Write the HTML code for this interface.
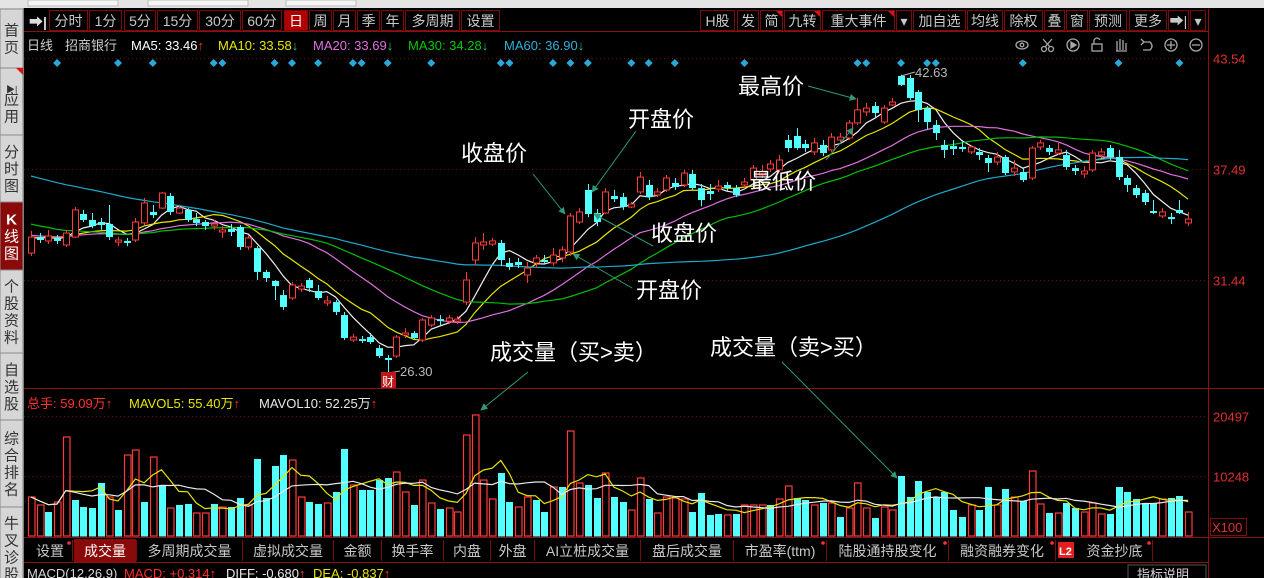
<!DOCTYPE html>
<html><head><meta charset="utf-8"><title>招商银行 日线</title>
<style>
html,body{margin:0;padding:0;background:#000;}
body{width:1264px;height:578px;overflow:hidden;}
svg{display:block;font-family:"Liberation Sans","Noto Sans CJK SC",sans-serif;}
</style></head>
<body>
<svg id="chart" width="1264" height="578" viewBox="0 0 1264 578" xmlns="http://www.w3.org/2000/svg">
<defs>
<marker id="arr" viewBox="0 0 10 10" refX="9" refY="5" markerWidth="7" markerHeight="7" orient="auto-start-reverse"><path d="M0,0 L10,5 L0,10 z" fill="#2f9a78"/></marker>
</defs>
<rect x="0" y="0" width="1264" height="578" fill="#000"/>
<g>
<rect x="0" y="0" width="1264" height="8" fill="#e4e4e4"/>
<rect x="28" y="0" width="90" height="6" fill="#f4f4f4" stroke="#bbb"/>
<rect x="148" y="0" width="100" height="6" fill="#f4f4f4" stroke="#bbb"/>
<rect x="286" y="0" width="70" height="6" fill="#f4f4f4" stroke="#bbb"/>
</g>
<g id="sidebar">
<rect x="0" y="8" width="24" height="570" fill="#d6d6d6"/>
<line x1="23.5" y1="8" x2="23.5" y2="578" stroke="#777"/>
</g>
<g id="toolbar"></g>
<g stroke="#8c1010" stroke-width="1">
<line x1="24" y1="31.5" x2="1208" y2="31.5"/>
<line x1="1208.5" y1="9" x2="1208.5" y2="578"/>
<line x1="24" y1="388.5" x2="1264" y2="388.5"/>
<line x1="24" y1="537.5" x2="1264" y2="537.5"/>
<line x1="24" y1="562.5" x2="1208" y2="562.5"/>
</g>
<g id="grid"></g>
<g id="axes"></g>
<g font-size="13">
<text x="27" y="50" fill="#cfcfcf">日线</text>
<text x="65" y="50" fill="#cfcfcf">招商银行</text>
<text x="131" y="50" fill="#ffffff">MA5: 33.46<tspan fill="#ff3030">↑</tspan></text>
<text x="218" y="50" fill="#e6e600">MA10: 33.58<tspan fill="#30c080">↓</tspan></text>
<text x="313" y="50" fill="#e070e0">MA20: 33.69<tspan fill="#30c080">↓</tspan></text>
<text x="408" y="50" fill="#00c800">MA30: 34.28<tspan fill="#30c080">↓</tspan></text>
<text x="504" y="50" fill="#30b0d8">MA60: 36.90<tspan fill="#30c080">↓</tspan></text>
</g>
<g id="tools" stroke="#a8a8a8" fill="none" stroke-width="1.3"></g>
<g id="markers"></g>
<g id="maLines"></g>
<g id="candles"></g>
<g id="volBars"></g>
<g id="volLines"></g>
<g font-size="13">
<text x="27" y="408" fill="#ff3030">总手: 59.09万↑</text>
<text x="129" y="408" fill="#e6e600">MAVOL5: 55.40万<tspan fill="#ff3030">↑</tspan></text>
<text x="259" y="408" fill="#e8e8e8">MAVOL10: 52.25万<tspan fill="#ff3030">↑</tspan></text>
</g>
<g font-size="13" fill="#b8b8b8">
<line x1="901" y1="76" x2="915" y2="72" stroke="#b8b8b8"/>
<text x="915" y="77">42.63</text>
<line x1="389" y1="373" x2="400" y2="371" stroke="#b8b8b8"/>
<text x="400" y="376">26.30</text>
<rect x="381" y="372" width="15" height="16" fill="#c01818"/>
<text x="382" y="386" fill="#fff" font-size="12">财</text>
</g>
<g font-size="22" fill="#ffffff">
<text x="738" y="94">最高价</text>
<text x="628" y="127">开盘价</text>
<text x="461" y="161">收盘价</text>
<text x="750" y="189">最低价</text>
<text x="651" y="241">收盘价</text>
<text x="636" y="298">开盘价</text>
<text x="490" y="360">成交量（买&gt;卖）</text>
<text x="710" y="355">成交量（卖&gt;买）</text>
<g stroke="#2f9a78" stroke-width="1" marker-end="url(#arr)">
<line x1="808" y1="86" x2="856" y2="99"/>
<line x1="636" y1="131" x2="592" y2="192"/>
<line x1="533" y1="174" x2="565" y2="214"/>
<line x1="826" y1="160" x2="853" y2="128"/>
<line x1="653" y1="246" x2="594" y2="214"/>
<line x1="632" y1="288" x2="573" y2="254"/>
<line x1="528" y1="372" x2="481" y2="410"/>
<line x1="782" y1="362" x2="897" y2="478"/>
</g>
</g>
<g id="tabs"></g>
<g font-size="13">
<text x="27" y="578" fill="#d8d8d8">MACD(12,26,9)</text>
<text x="124" y="578" fill="#ff3030">MACD: +0.314↑</text>
<text x="226" y="578" fill="#e8e8e8">DIFF: -0.680<tspan fill="#ff3030">↑</tspan></text>
<text x="313" y="578" fill="#e6e600">DEA: -0.837<tspan fill="#ff3030">↑</tspan></text>
<rect x="1128" y="565" width="78" height="14" fill="none" stroke="#555"/>
<text x="1137" y="579" fill="#d8d8d8">指标说明</text>
</g>
</svg>
<script>
const opens=[32.91,33.78,33.57,33.73,33.35,33.78,35.04,34.71,34.60,34.49,
33.51,33.57,33.62,34.55,35.15,35.36,36.02,35.09,35.26,34.76,
34.60,34.38,34.06,34.22,34.33,33.24,33.18,31.88,31.39,30.62,
30.46,30.95,31.44,30.84,30.19,30.24,29.53,28.17,28.22,28.33,
27.73,27.19,27.30,28.44,28.55,28.17,28.99,29.31,29.20,29.20,
30.24,32.53,33.35,33.40,33.46,32.37,32.42,31.71,32.37,32.53,
32.37,32.64,32.97,34.60,36.35,35.09,35.09,36.02,35.96,35.42,
36.24,36.62,36.07,36.35,36.73,36.62,37.22,36.45,36.29,36.40,
36.62,36.45,36.62,36.89,37.16,37.49,37.44,39.07,39.29,38.85,
38.42,38.80,38.53,39.07,39.18,40.00,40.60,40.92,40.05,40.98,
42.56,42.45,41.69,40.81,39.89,38.80,38.74,38.69,38.42,38.42,
38.09,37.87,38.14,37.33,37.33,37.00,38.69,38.63,38.36,38.25,
37.54,37.22,37.44,38.25,38.63,38.14,37.00,36.45,36.18,35.20,
34.93,34.87,35.26,34.55];
const closes=[33.78,33.62,33.84,33.57,34.00,35.26,34.71,34.38,34.44,33.78,
33.62,33.46,34.60,35.64,34.98,36.18,35.15,35.36,34.71,34.55,
34.38,34.49,34.17,34.06,33.24,33.73,31.88,31.55,31.11,29.97,
31.17,31.11,31.00,30.46,30.30,29.70,28.28,28.33,28.12,28.06,
27.30,27.08,28.33,28.55,28.28,29.26,29.37,29.20,29.37,29.31,
31.44,33.46,33.51,33.57,32.53,32.15,32.26,32.09,32.64,32.42,
32.80,33.08,34.93,35.15,35.04,34.60,36.24,35.85,35.42,35.58,
37.05,35.96,36.24,37.00,36.51,37.27,36.45,35.80,36.13,36.56,
36.45,36.07,36.78,37.54,37.33,37.76,37.98,38.63,38.63,38.63,
38.91,38.36,39.23,39.23,40.00,40.71,40.81,40.54,40.81,41.14,
42.07,41.36,40.71,40.05,39.45,38.53,38.58,38.58,38.69,38.25,
37.82,38.14,37.27,37.54,36.89,38.63,38.91,38.42,38.53,37.60,
37.38,37.38,38.36,38.42,38.14,37.05,36.62,36.07,35.69,35.09,
35.15,34.76,35.09,34.76];
const highs=[34.11,34.00,34.17,33.89,34.17,35.42,35.26,35.09,34.82,35.53,
33.78,33.73,34.82,35.91,35.53,36.24,36.18,35.47,35.36,35.09,
34.71,34.71,34.38,34.49,34.44,33.89,33.29,31.99,31.44,30.90,
31.33,31.28,31.55,31.17,30.57,30.35,29.70,28.50,28.39,28.55,
27.90,27.35,28.44,28.82,28.66,29.37,29.53,29.53,29.53,29.48,
31.88,33.78,34.00,33.73,33.62,32.64,32.64,32.42,32.80,32.80,
33.18,33.29,35.09,35.36,36.67,35.31,36.45,36.35,36.18,35.69,
37.33,36.89,36.45,37.16,37.00,37.44,37.44,36.67,36.67,36.89,
36.78,36.62,37.00,37.71,37.71,37.98,38.25,39.34,39.72,39.07,
39.18,39.07,39.45,39.45,40.16,41.36,41.09,41.14,40.98,41.36,
42.63,42.61,41.80,40.92,40.16,39.07,39.07,39.07,38.80,38.63,
38.25,38.42,38.25,37.98,37.54,38.74,39.07,38.80,38.91,38.53,
37.71,37.65,38.53,38.63,38.80,38.53,37.16,36.62,36.35,35.80,
35.36,35.09,35.80,35.15];
const lows=[32.75,33.46,33.40,33.40,33.24,33.73,34.60,34.27,34.17,33.62,
33.29,33.29,33.51,34.44,34.82,35.31,34.98,35.04,34.60,34.38,
34.17,34.17,33.73,33.84,33.08,33.08,31.44,31.33,30.35,29.81,
30.35,30.79,30.79,30.35,30.03,29.53,28.17,28.06,28.01,27.95,
27.19,26.30,27.19,28.28,28.17,28.06,28.88,28.99,29.04,29.04,
30.08,32.26,33.08,33.29,32.20,31.99,32.09,31.28,32.09,32.31,
32.20,32.42,32.75,34.49,34.87,34.38,35.04,35.69,35.26,35.36,
36.13,35.80,35.96,36.24,36.35,36.51,36.35,35.47,35.80,36.24,
36.29,35.96,36.45,36.78,37.00,37.33,37.33,38.42,38.53,38.42,
38.25,38.20,38.42,38.96,39.07,39.89,40.38,40.32,39.94,40.92,
42.01,41.25,40.05,39.62,39.07,38.09,38.25,38.42,38.31,37.98,
37.33,37.71,37.16,37.11,36.78,36.89,38.53,38.25,38.25,37.44,
37.16,36.99,37.33,38.09,37.98,36.89,36.24,35.91,35.53,35.04,
34.82,34.49,35.04,34.38];
const volumes=[6660,5300,4100,5810,16910,6150,4950,4780,9050,6660,
4440,13830,14690,5810,13490,8710,4780,5300,5470,3930,
3930,5470,4950,4950,6490,5300,13150,6490,11960,13830,
12980,6660,5810,5470,5640,7520,14860,8710,7860,7860,
9560,9910,10930,7520,5300,9560,5640,4610,4780,4100,
17250,20670,9560,6320,10760,5810,4950,6660,6150,4100,
8370,8370,17930,9050,8710,6490,10760,6660,5810,4440,
9910,6320,3930,6660,6490,6320,4100,7340,3590,3760,
3590,3760,5300,5300,5300,5300,6320,8540,6490,6150,
5300,5640,5640,3250,4780,9050,4780,3070,4950,4440,
10250,6660,9390,7520,6660,7520,4440,3250,5300,4440,
8370,5300,8030,6660,5980,11100,5470,3930,3930,5640,
4780,4100,5640,3760,3760,8370,7520,6320,5640,5640,
6320,6490,6830,4100];
const volumeUp=[1,1,0,1,1,0,0,0,0,1,
0,1,1,0,1,0,1,0,0,1,
1,0,1,0,0,1,0,0,0,0,
1,1,0,0,1,0,0,1,0,0,
0,0,1,1,0,1,1,0,1,1,
1,1,1,1,0,0,1,1,0,0,
1,0,1,1,0,0,1,0,0,1,
1,0,1,1,1,1,0,0,0,0,
1,0,1,1,1,0,1,1,0,0,
1,0,1,0,1,1,1,0,1,1,
0,0,0,0,0,0,0,0,1,0,
0,1,0,1,0,1,1,0,1,0,
0,1,1,1,0,0,0,0,0,0,
1,0,0,1];
const prehistory=[41.2,41.0,40.8,41.1,40.6,40.4,40.7,40.2,40.0,40.3,39.9,39.6,39.8,40.1,39.7,39.4,39.6,39.9,39.5,39.2,39.5,39.8,39.3,39.0,39.4,39.7,39.2,38.9,39.1,38.8,
37.2,36.8,36.3,36.6,35.9,35.5,35.8,35.2,35.0,35.4,
34.8,34.2,34.5,33.9,34.0,33.6,34.1,33.7,33.8,34.2,33.9,33.6,34.0,33.7,33.5,33.9,33.8,33.6,33.9,33.7];
const priceTicks=[43.54,37.49,31.44];
const volTicks=[20497,10248];
const maPeriods=[5,10,20,30,60];
const maColors=['#f0f0f0','#e6e600','#e070e0','#00c000','#20a8cc'];
const markerIdx=[3,10,14,21,22,28,30,33,37,38,41,46,54,55,60,62,64,69,71,74,82,95,96,100,103,104,114,125,132];

const NS='http://www.w3.org/2000/svg';
function mk(tag,attrs,parent){const e=document.createElementNS(NS,tag);for(const k in attrs)e.setAttribute(k,attrs[k]);if(parent)parent.appendChild(e);return e;}
function xOf(i){return 31+i*8.7;}
function yP(p){return 169-(p-37.49)*18.35;}
function yV(v){return 536-v/10248*60;}

const sb=document.getElementById('sidebar');
const sideTabs=[['首页',9,68],['应用',68,135],['分时图',135,202],['K线图',202,270],['个股资料',270,353],['自选股',353,420],['综合排名',420,507],['牛叉诊股',507,590]];
sideTabs.forEach(function(t){
  const g=mk('g',{},sb);
  
  
  const active=t[0]==='K线图';
  mk('rect',{x:0,y:t[1],width:23,height:t[2]-t[1],fill:active?'#8a0a0a':'#d6d6d6',stroke:'#8a8a8a'},g);
  const chars=t[0].split('');
  const h=chars.length*17;
  let y0=(t[1]+t[2])/2-h/2+14;
  if(t[0]==='应用'){mk('text',{x:6,y:y0-6,'font-size':9,fill:'#333'},g).textContent='▶|';y0+=6;}
  chars.forEach(function(c,k){const tx=mk('text',{x:11.5,y:y0+k*17,'font-size':15,fill:active?'#fff':'#333','text-anchor':'middle','font-weight':(c==='K'?'bold':'normal')},g);tx.textContent=c;});
});
mk('path',{d:'M16,68 L23,68 L23,75 z',fill:'#e01010'},sb);

const tb=document.getElementById('toolbar');
const leftBtns=[['分时',49,88],['1分',89,122],['5分',124,156],['15分',157,198],['30分',199,241],['60分',242,282],['日',284,308],['周',309,332],['月',333,356],['季',357,380],['年',381,404],['多周期',405,460],['设置',461,500]];
const rightBtns=[['H股',700,735],['发',737,759],['简',760,783],['九转',784,821],['重大事件',822,895],['▾',896,912],['加自选',913,966],['均线',967,1003],['除权',1004,1043],['叠',1044,1065],['窗',1066,1088],['预测',1089,1127],['更多',1129,1167],['➡|',1168,1189],['▾',1190,1206]];
mk('text',{x:29,y:27,'font-size':14,fill:'#ddd','font-weight':'bold'},tb).textContent='➡|';
leftBtns.concat(rightBtns).forEach(function(b){
  const g=mk('g',{},tb);
  
  
  const act=b[0]==='日';
  mk('rect',{x:b[1]+0.5,y:10.5,width:b[2]-b[1]-1,height:20,fill:act?'#b00000':'#000',stroke:'#7a0c0c'},g);
  const t=mk('text',{x:(b[1]+b[2])/2,y:26,'font-size':14,fill:act?'#fff':'#c8c8c8','text-anchor':'middle'},g);
  t.textContent=b[0];
  if(['简','九转','重大事件'].indexOf(b[0])>=0){mk('path',{d:'M'+(b[2]-7)+',11 L'+(b[2]-1)+',11 L'+(b[2]-1)+',17 z',fill:'#e01010'},g);}
});

const tl=document.getElementById('tools');
mk('ellipse',{cx:1022,cy:45,rx:6,ry:4},tl);mk('circle',{cx:1022,cy:45,r:1.8},tl);
mk('circle',{cx:1044,cy:49,r:2.5},tl);mk('circle',{cx:1051,cy:49,r:2.5},tl);mk('path',{d:'M1045,47 L1052,39 M1050,47 L1043,39'},tl);
mk('circle',{cx:1073,cy:45,r:6},tl);mk('path',{d:'M1071,42 L1076,45 L1071,48 z',fill:'#a8a8a8'},tl);
mk('rect',{x:1092,y:44,width:10,height:7},tl);mk('path',{d:'M1094,44 L1094,40 Q1097,36 1100,40'},tl);
mk('path',{d:'M1117,51 L1117,41 M1120,50 L1120,39 M1123,50 L1123,40 M1126,50 L1126,43 M1116,51 L1127,51'},tl);
mk('path',{d:'M1144,42 L1150,42 Q1154,46 1150,50 L1143,50 M1144,42 L1141,39 M1144,42 L1141,45'},tl);
mk('circle',{cx:1171,cy:45,r:6},tl);mk('path',{d:'M1167,45 L1175,45 M1171,41 L1171,49'},tl);
mk('circle',{cx:1196,cy:45,r:6},tl);mk('path',{d:'M1192,45 L1200,45'},tl);

const gr=document.getElementById('grid');
const ax=document.getElementById('axes');
priceTicks.forEach(function(p){
  const y=Math.round(yP(p))+0.5;
  const l=mk('line',{x1:24,y1:y,x2:1208,y2:y,stroke:'#6a0c0c','stroke-dasharray':'1,3'},gr);
  
  
  const t=mk('text',{x:1213,y:y+5,'font-size':13,fill:'#e03030'},ax);
  
  
  t.textContent=p.toFixed(2);
});
volTicks.forEach(function(v){
  const y=Math.round(yV(v))+0.5;
  const l=mk('line',{x1:24,y1:y,x2:1208,y2:y,stroke:'#6a0c0c','stroke-dasharray':'1,3'},gr);
  
  
  const t=mk('text',{x:1213,y:y+5,'font-size':13,fill:'#e03030'},ax);
  
  
  t.textContent=String(v);
});
mk('rect',{x:1210.5,y:518.5,width:36,height:17,fill:'none',stroke:'#7a0c0c'},ax);
const xu=mk('text',{x:1212,y:532,'font-size':13,fill:'#e03030'},ax);

xu.textContent='X100';

const mg=document.getElementById('markers');
markerIdx.forEach(function(i){
  const x=xOf(i);
  const d=mk('path',{d:'M'+x+',59 L'+(x+4)+',63 L'+x+',67 L'+(x-4)+',63 z',fill:'#2aa8d8'},mg);
  
  
});

const all=prehistory.concat(closes);
const off=prehistory.length;
const mlg=document.getElementById('maLines');
maPeriods.forEach(function(n,k){
  const pts=[];
  for(let i=0;i<closes.length;i++){
    let s=0;for(let j=off+i-n+1;j<=off+i;j++)s+=all[j];
    pts.push(xOf(i).toFixed(1)+','+yP(s/n).toFixed(1));
  }
  const pl=mk('polyline',{points:pts.join(' '),fill:'none',stroke:maColors[k],'stroke-width':1.2},mlg);
  
  
});

const cg=document.getElementById('candles');
for(let i=0;i<closes.length;i++){
  const x=xOf(i),up=closes[i]>=opens[i];
  const col=up?'#ff3a3a':'#54ffff';
  const g=mk('g',{},cg);
  
  
  const yt=yP(Math.max(opens[i],closes[i])),yb=yP(Math.min(opens[i],closes[i]));
  const xr=Math.round(x)+0.5;
  mk('line',{x1:xr,y1:yP(highs[i]),x2:xr,y2:yt,stroke:col},g);
  mk('line',{x1:xr,y1:yb,x2:xr,y2:yP(lows[i]),stroke:col},g);
  const h=Math.max(yb-yt,1);
  if(up) mk('rect',{x:xr-3,y:yt,width:6,height:h,fill:'#000',stroke:col},g);
  else mk('rect',{x:xr-3.5,y:yt,width:7,height:h,fill:col},g);
}

const vg=document.getElementById('volBars');
for(let i=0;i<volumes.length;i++){
  const x=Math.round(xOf(i))+0.5,up=volumeUp[i]===1;
  const y=yV(volumes[i]);
  let r;
  if(up) r=mk('rect',{x:x-3,y:y,width:6.5,height:536-y,fill:'none',stroke:'#ff3a3a','stroke-width':1.2},vg);
  else r=mk('rect',{x:x-3.5,y:y,width:7,height:536.5-y,fill:'#54ffff'},vg);
  
  
}
const vlg=document.getElementById('volLines');
[[5,'#e6e600'],[10,'#e8e8e8']].forEach(function(m){
  const pts=[];
  for(let i=0;i<volumes.length;i++){
    const s0=Math.max(0,i-m[0]+1);let s=0;
    for(let j=s0;j<=i;j++)s+=volumes[j];
    pts.push(xOf(i).toFixed(1)+','+yV(s/(i-s0+1)).toFixed(1));
  }
  const pl=mk('polyline',{points:pts.join(' '),fill:'none',stroke:m[1],'stroke-width':1.2},vlg);
  
  
});

const tg=document.getElementById('tabs');
const tabs=[['设置',28,72,1],['成交量',74,136,0],['多周期成交量',137,242,0],['虚拟成交量',243,333,0],['金额',334,381,0],['换手率',382,443,0],['内盘',444,490,0],['外盘',491,534,0],['AI立桩成交量',535,640,0],['盘后成交量',641,733,0],['市盈率(ttm)',734,826,1],['陆股通持股变化',827,948,1],['融资融券变化',949,1055,1],['资金抄底',1077,1152,1]];
tabs.forEach(function(t){
  const g=mk('g',{},tg);
  
  
  const act=t[0]==='成交量';
  mk('rect',{x:t[1],y:539,width:t[2]-t[1],height:23,fill:act?'#8a0a0a':'#000'},g);
  mk('line',{x1:t[2]+0.5,y1:540,x2:t[2]+0.5,y2:561,stroke:'#7a0c0c'},g);
  const tx=mk('text',{x:(t[1]+t[2])/2,y:556,'font-size':14,fill:act?'#fff':'#c8c8c8','text-anchor':'middle'},g);
  tx.textContent=t[0];
  if(t[3]) mk('circle',{cx:t[2]-3,cy:543,r:1.8,fill:'#ff3030'},g);
});
const l2=mk('rect',{x:1058,y:542,width:16,height:16,fill:'#e02020'},tg);

const l2t=mk('text',{x:1059,y:555,'font-size':11,fill:'#fff','font-weight':'bold'},tg);
l2t.textContent='L2';
</script>
</body></html>
